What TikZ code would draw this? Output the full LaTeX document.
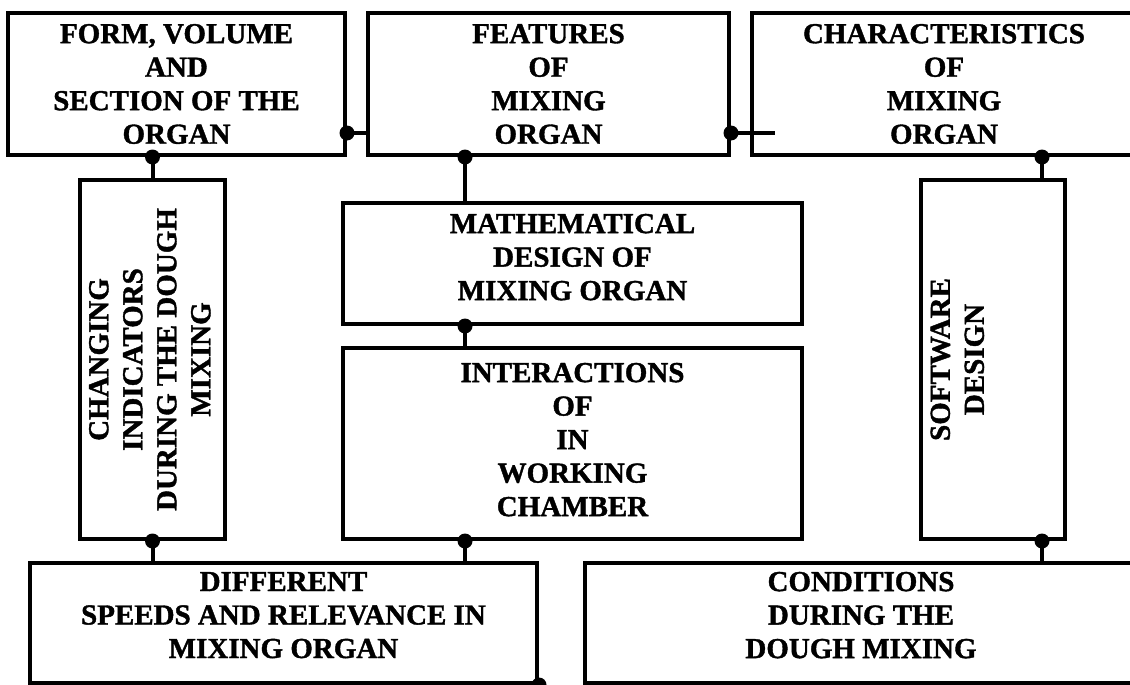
\documentclass[tikz,border=0pt]{standalone}
\usepackage{fontspec}
\setmainfont{Liberation Serif}[BoldFeatures={FakeBold=1.3}]
\usepackage{graphicx}
\begin{document}
\begin{tikzpicture}[x=1pt,y=-1pt,
  box/.style={draw, line width=4pt, inner sep=0pt, align=center,
    font=\bfseries\fontsize{29}{33.5}\selectfont},
  vbox/.style={draw, line width=4pt, inner sep=0pt,
    font=\bfseries\fontsize{29}{34}\selectfont},
  conn/.style={line width=4pt},
  dotc/.style={fill=black}]
\clip (0,0) rectangle (1130,685);
% top row
\node[box, minimum width=337pt, minimum height=142pt] (form) at (176.5,84)
  {FORM, VOLUME\\AND\\SECTION OF THE\\ORGAN};
\node[box, minimum width=361pt, minimum height=142pt] (feat) at (548.5,84)
  {FEATURES\\OF\\MIXING\\ORGAN};
\node[box, minimum width=384pt, minimum height=142pt] (char) at (944,84)
  {CHARACTERISTICS\\OF\\MIXING\\ORGAN};
% middle
\node[vbox, minimum width=145pt, minimum height=359pt] (chg) at (152.5,359.5)
  {\rotatebox{90}{\begin{tabular}{@{}c@{}}CHANGING\\INDICATORS\\DURING THE DOUGH\\MIXING\end{tabular}}};
\node[box, minimum width=459pt, minimum height=121pt, text depth=13pt] (math) at (572.5,263.5)
  {MATHEMATICAL\\DESIGN OF\\MIXING ORGAN};
\node[box, minimum width=459pt, minimum height=191pt, text depth=8pt] (inter) at (572.5,443.5)
  {INTERACTIONS\\OF\\IN\\WORKING\\CHAMBER};
\node[vbox, minimum width=144pt, minimum height=359pt] (sw) at (993,359.5)
  {\rotatebox{90}{\begin{tabular}{@{}c@{}}SOFTWARE\\DESIGN\end{tabular}}\rule{66pt}{0pt}};
% bottom
\node[box, minimum width=507pt, minimum height=120pt, text depth=16pt] (diff) at (283.5,623)
  {DIFFERENT\\SPEEDS AND RELEVANCE IN\\MIXING ORGAN};
\node[box, minimum width=552pt, minimum height=120pt, text depth=16pt] (cond) at (861,623)
  {CONDITIONS\\DURING THE\\DOUGH MIXING};
% helper coordinates
\coordinate (yh) at (0,133);
\coordinate (xa) at (465,0);
\coordinate (xb) at (1042,0);
\coordinate (xc) at (775,0);
% connectors
\draw[conn] (form.east |- yh) -- (feat.west |- yh);
\draw[conn] (feat.east |- yh) -- (xc |- yh);
\draw[conn] (form.south -| chg.north) -- (chg.north);
\draw[conn] (feat.south -| xa) -- (math.north -| xa);
\draw[conn] (math.south -| xa) -- (inter.north -| xa);
\draw[conn] (char.south -| xb) -- (sw.north -| xb);
\draw[conn] (chg.south) -- (diff.north -| chg.south);
\draw[conn] (inter.south -| xa) -- (diff.north -| xa);
\draw[conn] (sw.south -| xb) -- (cond.north -| xb);
% dots
\fill[dotc] (form.east |- yh) circle (7.5pt);
\fill[dotc] (feat.east |- yh) circle (7.5pt);
\fill[dotc] (form.south -| chg.north) circle (7.5pt);
\fill[dotc] (feat.south -| xa) circle (7.5pt);
\fill[dotc] (math.south -| xa) circle (7.5pt);
\fill[dotc] (char.south -| xb) circle (7.5pt);
\fill[dotc] (chg.south) circle (7.5pt);
\fill[dotc] (inter.south -| xa) circle (7.5pt);
\fill[dotc] (sw.south -| xb) circle (7.5pt);
\fill[dotc] (diff.south east) circle (7.5pt);
\end{tikzpicture}
\end{document}
